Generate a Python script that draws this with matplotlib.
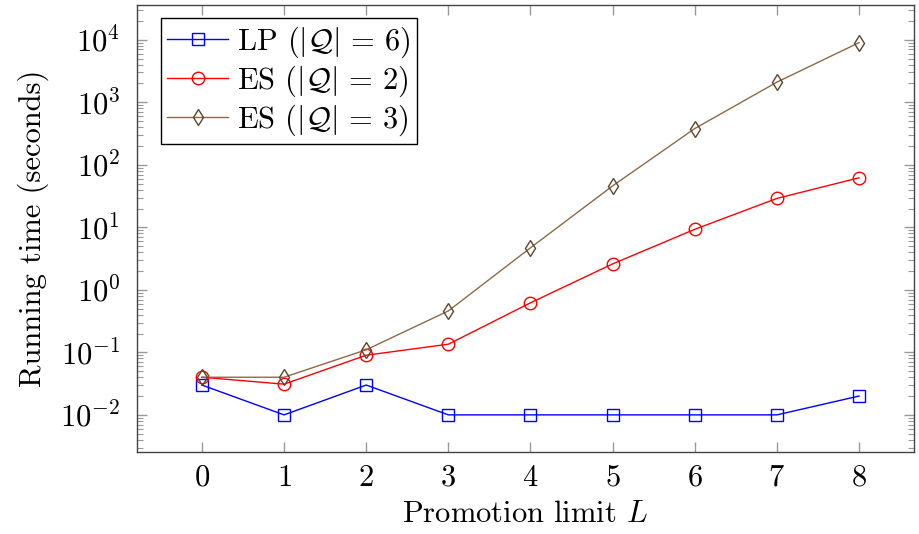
import matplotlib
matplotlib.use('Agg')
import matplotlib.pyplot as plt
from matplotlib.ticker import LogLocator, NullFormatter
import numpy as np

plt.rcParams['font.family'] = 'serif'
plt.rcParams['font.serif'] = ['cmr10', 'DejaVu Serif']
plt.rcParams['mathtext.fontset'] = 'cm'
plt.rcParams['axes.formatter.use_mathtext'] = True
plt.rcParams['axes.unicode_minus'] = True

L = [0, 1, 2, 3, 4, 5, 6, 7, 8]
lp_q6 = [0.03, 0.01, 0.03, 0.01, 0.01, 0.01, 0.01, 0.01, 0.02]
es_q2 = [0.04, 0.031, 0.09, 0.135, 0.62, 2.6, 9.3, 29, 62]
es_q3 = [0.04, 0.04, 0.11, 0.46, 4.7, 46, 380, 2100, 9000]

fs = 22

fig = plt.figure(figsize=(9.19, 5.34), dpi=100)
ax = fig.add_axes([0.1491, 0.1536, 0.8455, 0.837])

ax.plot(L, lp_q6, color='blue', lw=1.0, marker='s', ms=8, mfc='none',
        mec='blue', mew=1.0, label=r'LP $(|\mathcal{Q}|\,=\,6)$')
ax.plot(L, es_q2, color='red', lw=1.0, marker='o', ms=9, mfc='none',
        mec='red', mew=1.0, label=r'ES $(|\mathcal{Q}|\,=\,2)$')
ax.plot(L, es_q3, color='#8c6a46', lw=1.0, marker='d', ms=8.5, mfc='none',
        mec='#5a4530', mew=1.0, label=r'ES $(|\mathcal{Q}|\,=\,3)$')

ax.set_yscale('log')
ax.set_xlim(-0.79, 8.67)
ax.set_ylim(2.55e-3, 3.6e4)
ax.set_xticks(L)
ax.yaxis.set_major_locator(LogLocator(base=10, numticks=20))
ax.yaxis.set_minor_locator(LogLocator(base=10, subs=np.arange(2, 10), numticks=20))
ax.yaxis.set_minor_formatter(NullFormatter())

ax.tick_params(which='both', direction='in', top=True, right=True,
               color='#999999', labelsize=fs)
ax.tick_params(which='major', length=7, width=1)
ax.tick_params(which='minor', length=4, width=0.8)
ax.tick_params(axis='x', which='major', pad=9)
ax.tick_params(axis='y', which='major', pad=12)
ax.tick_params(axis='x', which='minor', bottom=False, top=False)
for s in ax.spines.values():
    s.set_linewidth(1.0)
    s.set_color('#444444')

ax.set_xlabel(r'Promotion limit $L$', fontsize=fs, labelpad=6)
ax.set_ylabel('Running time (seconds)', fontsize=fs, labelpad=8)

leg = ax.legend(loc='upper left', fontsize=fs, frameon=True, fancybox=False,
                edgecolor='black', framealpha=1, borderpad=0.2,
                handlelength=2.0, handletextpad=0.3, labelspacing=0.12,
                borderaxespad=0, bbox_to_anchor=(0.031, 0.97))
leg.get_frame().set_linewidth(1.0)

fig.savefig('out.png', dpi=100)
